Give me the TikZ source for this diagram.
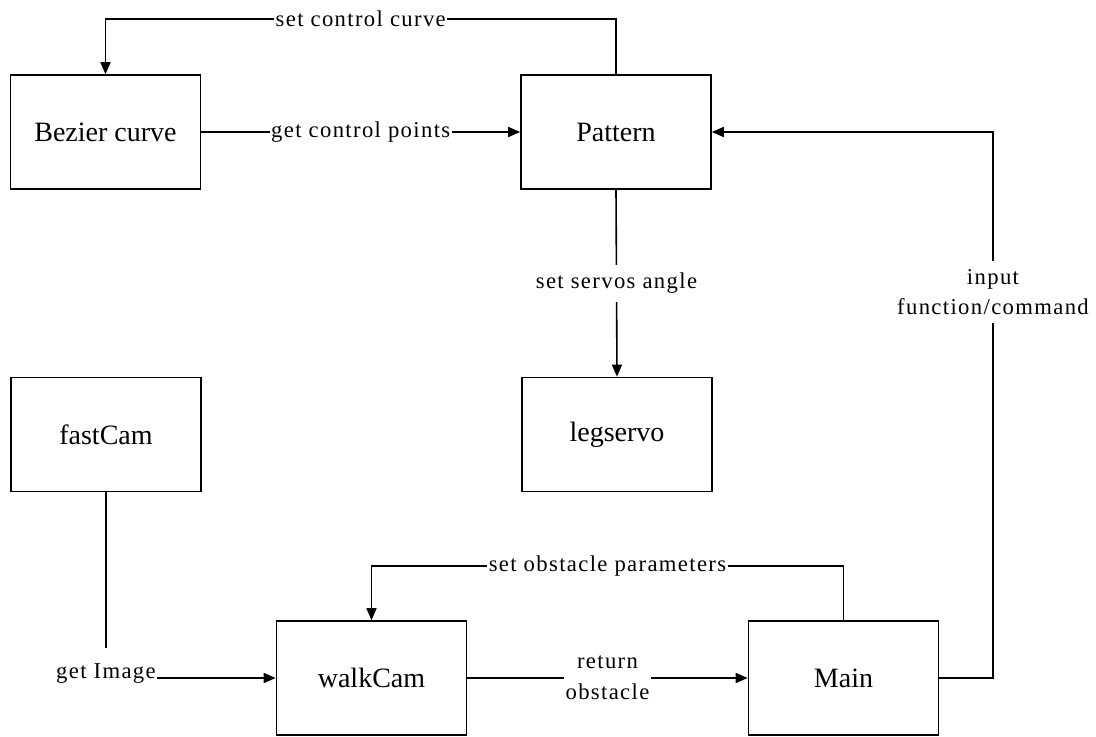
\documentclass[tikz,border=0pt]{standalone}
\usepackage{fontspec}
\setmainfont{Liberation Serif}
\newfontfamily\edgefont[LetterSpace=6]{Liberation Serif}
\usetikzlibrary{arrows.meta}
\tikzset{
  box/.style={draw, line width=1.2pt, minimum width=142.5pt, minimum height=85.5pt,
    inner sep=0pt, font=\fontsize{21}{26}\selectfont},
  link/.style={line width=1.2pt},
  arr/.style={link, -{Triangle[length=9pt,width=7.5pt]}},
  lbl/.style={fill=white, inner xsep=1pt, inner ysep=6pt, align=center,
    font=\edgefont\fontsize{17}{23}\selectfont}
}
\begin{document}
\begin{tikzpicture}[x=0.75pt, y=-0.75pt]
  \useasboundingbox (0,0) rectangle (1096,736);

  % modules
  \node[box] (bez)  at (105.5,132) {Bezier curve};
  \node[box] (pat)  at (616,132)   {Pattern};
  \node[box] (leg)  at (617,434.5) {legservo};
  \node[box] (fast) at (106,434.5) {fastCam};
  \node[box] (walk) at (371.5,678) {walkCam};
  \node[box] (main) at (843.5,678) {Main};

  % routing helpers
  \coordinate (toprow) at (0,19);
  \coordinate (obsrow) at (0,566);
  \coordinate (inputcol) at (993,0);

  % Pattern -> Bezier curve
  \draw[arr] (pat.north) -- (pat.north |- toprow)
    -- node[lbl, inner ysep=2pt]{set control curve} (bez.north |- toprow) -- (bez.north);

  % Bezier curve -> Pattern
  \draw[arr] (bez.east) -- node[lbl, inner ysep=2pt]{get control points} (pat.west);

  % Pattern -> legservo
  \draw[arr] (pat.south) -- node[lbl]{set servos angle} (leg.north);

  % Main -> Pattern
  \draw[arr] (main.east) -- (inputcol |- main.east)
    -- node[lbl, pos=0.707]{input\\function/command} (inputcol |- pat.east) -- (pat.east);

  % Main -> walkCam
  \draw[arr] (main.north) -- (main.north |- obsrow)
    -- node[lbl, inner ysep=2pt]{set obstacle parameters} (walk.north |- obsrow) -- (walk.north);

  % walkCam -> Main
  \draw[arr] (walk.east) -- node[lbl, inner ysep=1pt]{return\\obstacle} (main.west);

  % fastCam -> walkCam
  \draw[arr] (fast.south) |- node[lbl, pos=0.5, inner ysep=12pt, yshift=3pt]{get Image} (walk.west);
\end{tikzpicture}
\end{document}
